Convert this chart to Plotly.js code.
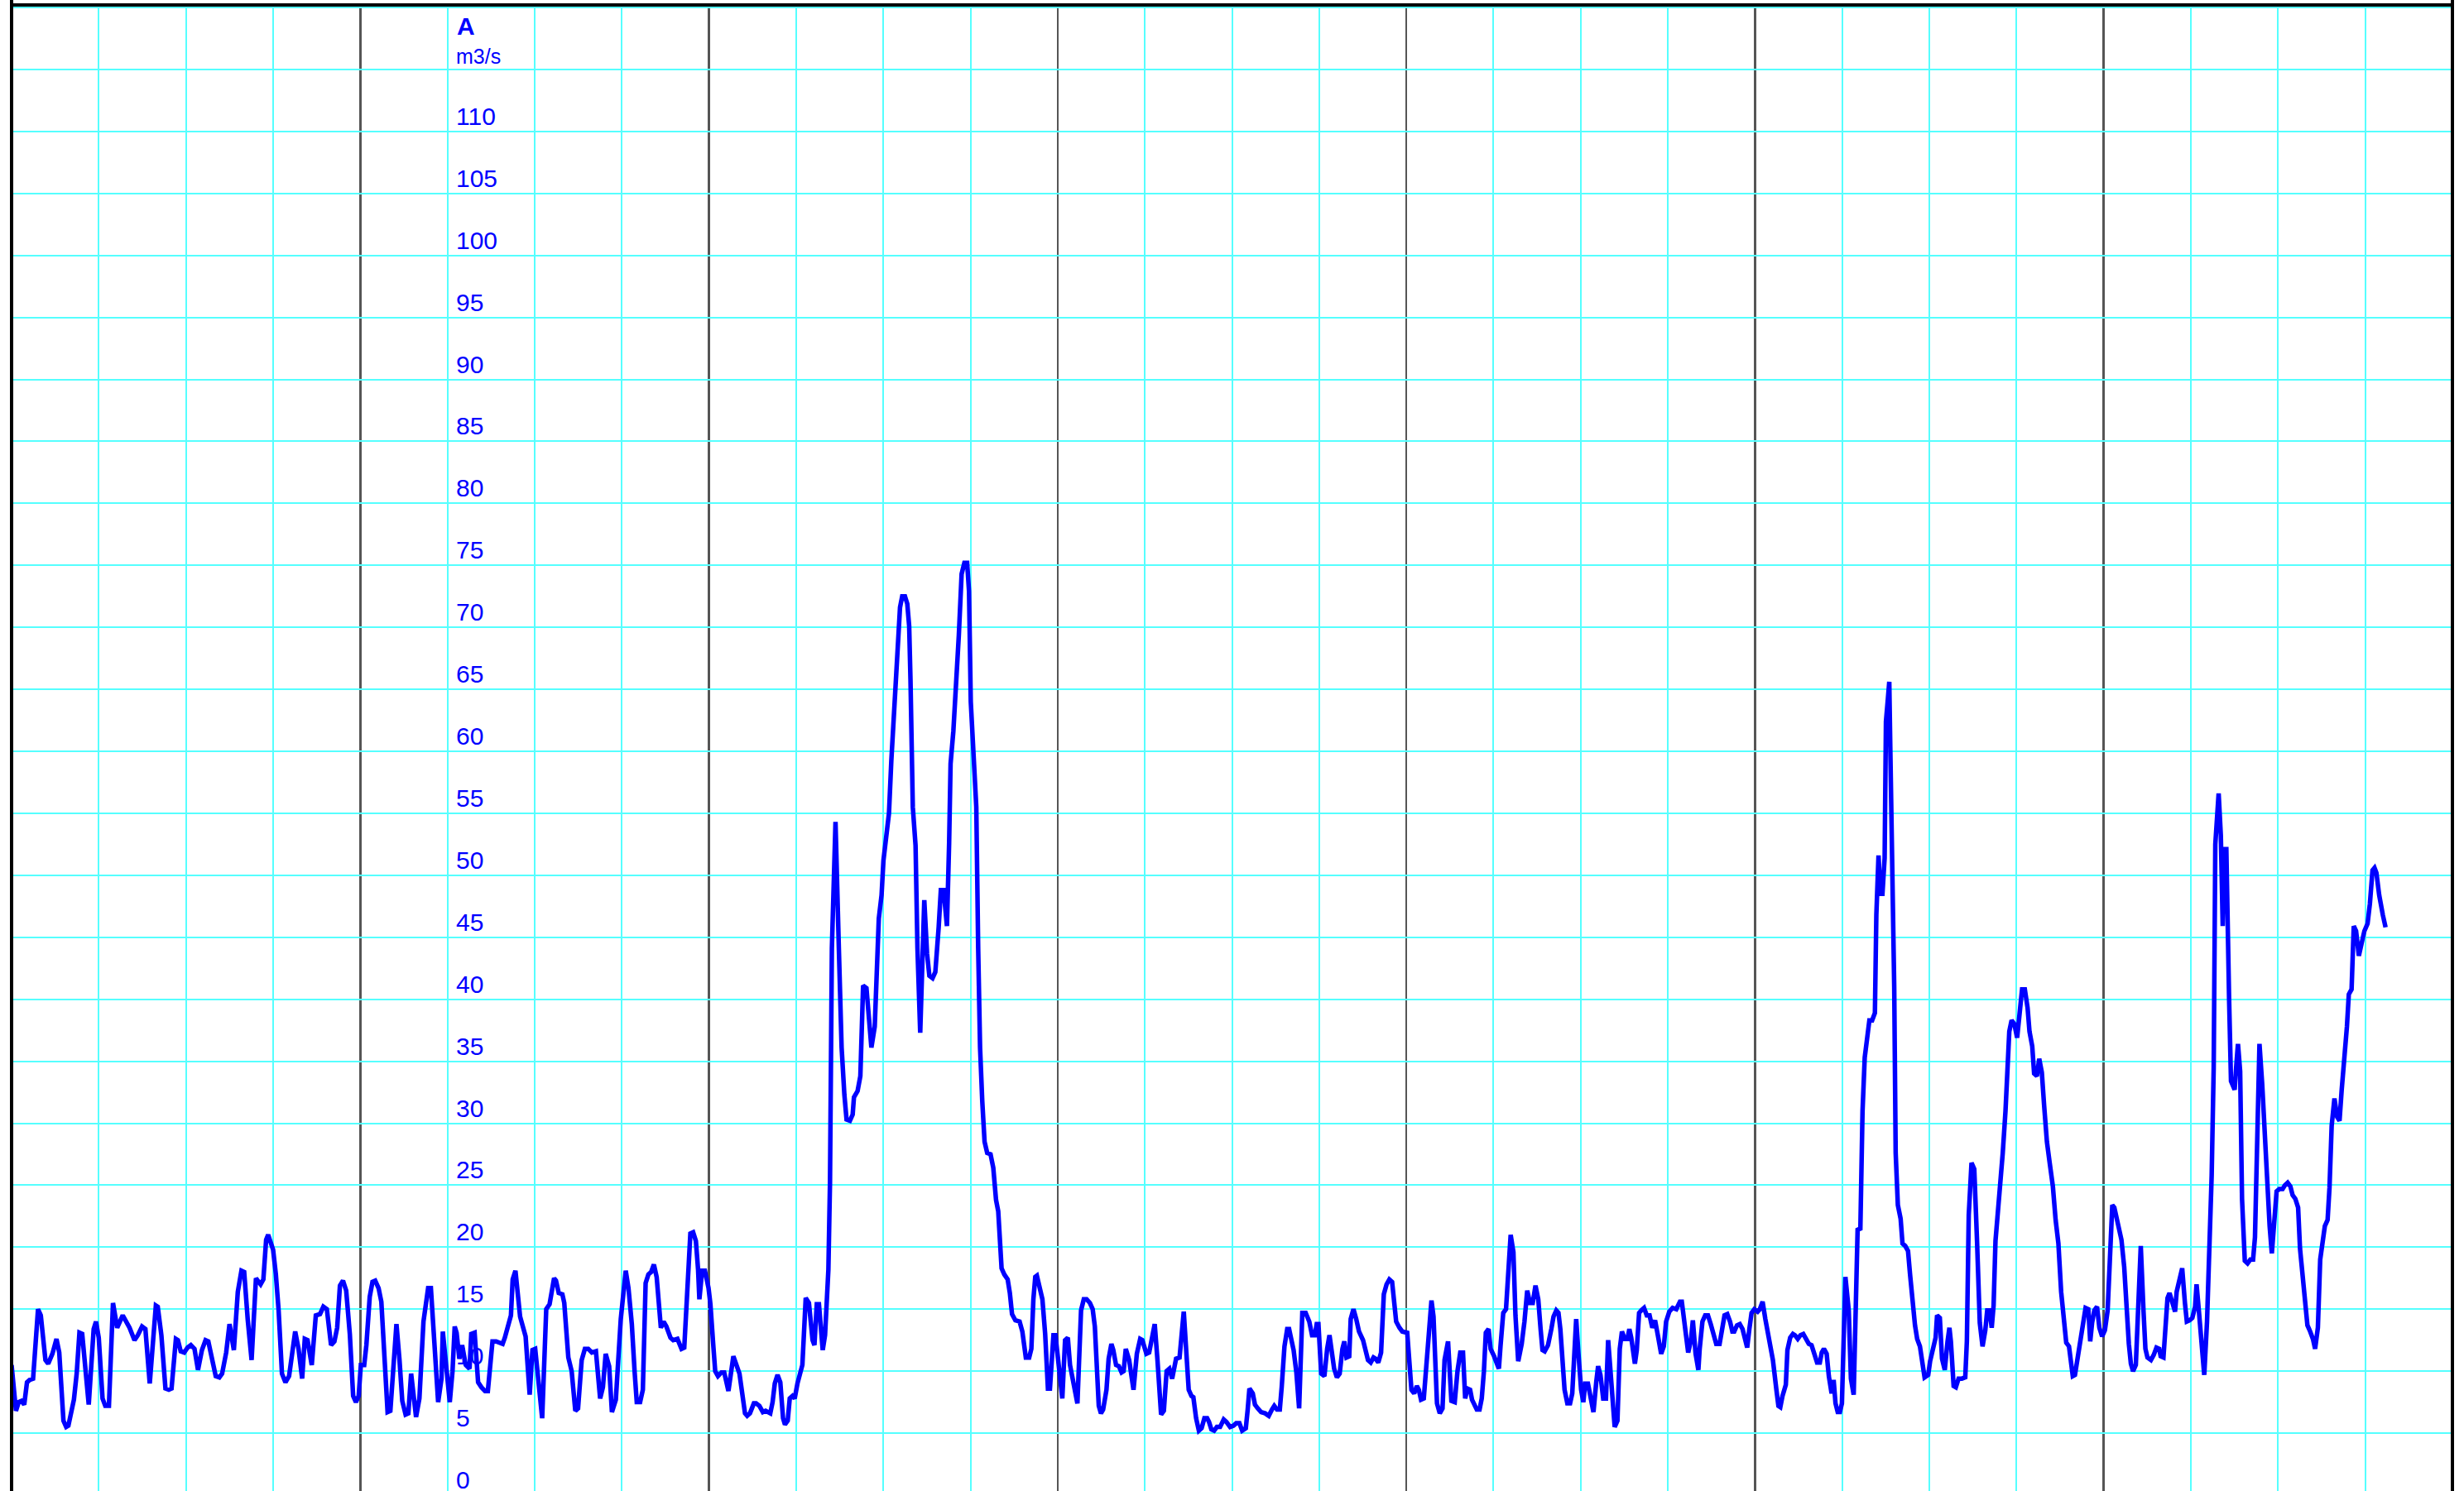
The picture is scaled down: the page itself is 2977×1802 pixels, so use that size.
<!DOCTYPE html>
<html>
<head>
<meta charset="utf-8">
<script src="https://cdn.plot.ly/plotly-3.0.1.min.js"></script>
<style>
html,body{margin:0;padding:0;overflow:hidden;background:#ffffff;}
#chart{width:2977px;height:1807px;}
</style>
</head>
<body>
<div id="chart"></div>
<script>
// Time axis in hours from the start of the 7-day window; flow in m3/s.
const hours = [
0, 0.30, 0.49, 0.68, 0.87, 1.06, 1.25, 1.48, 1.82, 2.01,
2.33, 2.52, 2.81, 3.09, 3.28, 3.57, 3.76, 3.91, 4.29, 4.48,
4.67, 4.86, 5.31, 5.65, 5.81, 6.0, 6.26, 6.45, 6.7, 6.98,
7.27, 7.65, 8.12, 8.46, 8.69, 8.98, 9.21, 9.51, 9.93, 10.06,
10.31, 10.59, 10.82, 11.01, 11.31, 11.45, 11.64, 11.88, 12.11, 12.34,
12.59, 12.83, 13.1, 13.35, 13.54, 13.78, 14.05, 14.3, 14.49, 14.77,
15.0, 15.3, 15.57, 15.82, 16.01, 16.25, 16.52, 16.82, 17.14, 17.33,
17.52, 17.66, 17.81, 18.0, 18.19, 18.38, 18.61, 18.85, 19.1, 19.52,
19.75, 20.0, 20.18, 20.37, 20.66, 20.94, 21.23, 21.46, 21.7, 21.99,
22.22, 22.41, 22.6, 22.81, 23.03, 23.28, 23.51, 23.7, 23.89, 24.04,
24.27, 24.42, 24.65, 24.84, 25.03, 25.26, 25.45, 25.69, 25.88, 26.07,
26.26, 26.49, 26.7, 26.89, 27.12, 27.31, 27.5,
27.84, 28.07, 28.35, 28.67, 28.86, 29.36, 29.59, 29.68, 29.93, 30.16,
30.35, 30.5, 30.63, 30.82, 31.01, 31.26, 31.52, 31.64, 31.87, 32.11,
32.34, 32.59, 32.78, 33.1, 33.35, 33.8, 33.95, 34.14, 34.37, 34.49,
34.68, 35.0, 35.38, 35.66, 35.85, 36.04, 36.52, 36.8, 37.03, 37.34,
37.47, 37.66, 37.91, 38.04, 38.32, 38.55, 38.8, 38.99, 39.24, 39.46,
39.69, 39.94, 40.22, 40.51, 40.7, 40.89, 41.13, 41.32, 41.59, 41.93,
42.27, 42.46, 42.69, 42.88, 43.03, 43.26, 43.45, 43.64, 43.83, 44.02,
44.21, 44.4, 44.59, 44.69, 44.88, 45.07, 45.35, 45.54, 45.83, 46.11,
46.3, 46.45, 46.58, 46.72, 46.91, 47.1, 47.25, 47.34, 47.53, 47.72,
47.97, 48.1, 48.29, 48.43, 48.62, 48.86, 49.05, 49.34, 49.68, 49.91,
50.1, 50.29, 50.48, 50.63, 50.82, 51.09, 51.24, 51.47, 51.71, 51.9,
52.09, 52.22, 52.38, 52.53, 52.72, 52.91, 53.1, 53.23, 53.42, 53.56,
53.75, 53.9, 54.09, 54.28, 54.43, 54.66, 54.88, 55.13, 55.26, 55.42,
55.57, 55.83, 55.99,
56.22, 56.33, 56.46, 56.71, 56.94, 57.13, 57.32, 57.47, 57.7, 57.89,
57.98, 58.23, 58.42, 58.61, 58.84, 59.03, 59.18, 59.41, 59.56, 59.69,
59.88, 60.01, 60.2, 60.39, 60.55, 60.74, 60.93, 61.15, 61.3, 61.49,
61.65, 61.78, 61.87, 62.03, 62.22, 62.35, 62.54, 62.82, 63.01, 63.17,
63.39, 63.58, 63.81, 63.96, 64.15, 64.38, 64.53, 64.63, 64.82, 65.01,
65.2, 65.39, 65.58, 65.77, 65.9, 66.02, 66.24, 66.4, 66.53, 66.66,
66.81, 66.97, 67.15, 67.38, 67.57, 67.76, 67.91, 68.14, 68.33, 68.56,
68.71, 68.86, 69.09, 69.38, 69.57, 69.81, 70.04, 70.19, 70.33, 70.46,
70.57, 70.76, 70.95, 71.14, 71.33, 71.47, 71.71, 71.85,
72.32, 72.51, 72.7, 72.85, 73.08, 73.36, 73.61, 73.8, 73.99, 74.22,
74.41, 74.56, 74.83, 74.98, 75.13, 75.36, 75.51, 75.7, 75.83, 76.02,
76.21, 76.4, 76.54, 76.69, 76.92, 77.07, 77.22, 77.45, 77.68, 77.83,
78.11, 78.3, 78.68, 78.87, 79.01, 79.12, 79.31, 79.5, 79.69, 79.88,
80.15, 80.39, 80.68, 80.87, 81.02, 81.21, 81.34, 81.53, 81.72, 81.91,
82.1, 82.29, 82.42, 82.58, 82.77, 82.96, 83.18, 83.43, 83.62, 83.87,
84.1, 84.29, 84.51, 84.7, 84.95, 85.08, 85.2, 85.43, 85.58, 85.77,
86.0, 86.28, 86.53, 86.75, 86.91, 87.1, 87.29, 87.42, 87.61, 87.8,
87.93, 88.24, 88.43, 88.62, 88.84, 89.07, 89.32, 89.51, 89.7, 89.83,
89.95, 90.14, 90.36, 90.55, 90.71, 90.84, 91.03, 91.22, 91.41, 91.6,
91.73, 91.88, 92.07, 92.17, 92.36, 92.55, 92.74, 93.02, 93.21, 93.36,
93.55, 93.74, 93.88, 94.07, 94.26, 94.45, 94.64, 94.83, 95.02, 95.15,
95.3, 95.53, 95.72, 96.06, 96.25, 96.35, 96.54, 96.72, 96.86, 97.01,
97.2, 97.39, 97.54, 97.73, 97.87, 98.11, 98.3, 98.49, 98.63, 98.87,
99.1, 99.33, 99.52, 99.71, 99.9, 100.05,
100.2, 100.39, 100.52, 100.71, 100.85, 101.04, 101.19, 101.34, 101.47, 101.66,
101.8, 102.04, 102.23, 102.37, 102.48, 102.67, 102.86, 102.99, 103.18, 103.37,
103.51, 103.7, 103.94, 104.13, 104.32, 104.51, 104.7, 104.89, 105.08, 105.24,
105.37, 105.52, 105.75, 105.98, 106.13, 106.32, 106.47, 106.6, 106.74, 106.89,
107.08, 107.27, 107.42, 107.55, 107.69, 107.84, 108.03, 108.18, 108.31, 108.5,
108.69, 108.88, 109.07, 109.2, 109.36, 109.55, 109.74, 109.89, 110.02, 110.21,
110.34, 110.53, 110.69, 110.84, 111.03, 111.22, 111.35, 111.48, 111.73, 111.86,
112.02, 112.17, 112.36, 112.55, 112.74, 112.93, 113.12, 113.31, 113.54, 113.72,
113.88, 114.1, 114.33, 114.58, 114.83, 114.96, 115.15, 115.4, 115.59, 115.72,
115.91, 116.1, 116.19, 116.38, 116.57, 116.76, 116.95, 117.14, 117.33, 117.56,
117.71, 117.9, 118.09, 118.28, 118.44, 118.57, 118.76, 118.95, 119.14, 119.33,
119.46, 119.61, 119.76, 119.95, 120.18, 120.33, 120.52, 120.71, 120.94, 121.23,
121.47, 121.61, 121.74, 121.89, 122.12, 122.23, 122.42, 122.61, 122.75, 122.94,
123.13, 123.32, 123.51, 123.7, 123.89, 124.13, 124.27, 124.46, 124.59, 124.74,
124.93, 125.08, 125.27, 125.41, 125.54, 125.69, 125.84, 125.98, 126.07, 126.22,
126.45, 126.6, 126.79, 126.92, 127.06, 127.25,
127.4, 127.55, 127.68, 127.87, 128.06, 128.25, 128.35, 128.5, 128.63, 128.77,
128.92, 129.01, 129.15, 129.24, 129.3, 129.45, 129.58, 129.68, 129.83, 130.02,
130.15, 130.34, 130.53, 130.67, 130.82, 131.01, 131.16, 131.35, 131.67, 131.92,
132.05, 132.3, 132.43, 132.53, 132.72, 132.87, 133.06, 133.25, 133.38, 133.48,
133.67, 133.82, 134.01, 134.24, 134.47, 134.58, 134.71, 134.9, 135.09, 135.28,
135.47, 135.66, 135.85, 135.98, 136.14, 136.29, 136.42, 136.55, 136.71, 136.9,
137.05, 137.24, 137.37, 137.5, 137.66, 137.85, 138.04, 138.23, 138.38, 138.57,
138.76, 138.89, 139.08, 139.21, 139.4, 139.56, 139.74, 139.9, 140.09, 140.28,
140.5, 140.69, 140.88, 141.07, 141.26, 141.42, 141.61, 141.74, 141.87, 142.02,
142.21, 142.4, 142.59, 142.75, 142.94, 143.07, 143.2, 143.35, 143.54, 143.7,
143.89, 144.08, 144.27, 144.4,
144.59, 144.73, 144.88, 145.03, 145.22, 145.41, 145.54, 145.73, 145.87, 146.02,
146.21, 146.36, 146.55, 146.74, 146.87, 147.01, 147.25, 147.44, 147.63, 147.82,
147.92, 148.11, 148.26, 148.39, 148.53, 148.72, 148.91, 149.02, 149.21, 149.4,
149.59, 149.72, 149.91, 150.1, 150.29, 150.39, 150.54, 150.73, 150.92, 151.11,
151.3, 151.43, 151.57, 151.68, 151.91, 152.06, 152.19, 152.29, 152.44, 152.57,
152.63, 152.76, 152.9, 153.01, 153.14, 153.24, 153.39, 153.52, 153.71, 153.9,
154.09, 154.28, 154.41, 154.57, 154.72, 154.91, 155.1, 155.29, 155.42, 155.57,
155.74, 155.9, 156.09, 156.31, 156.47, 156.66, 156.85, 157.0, 157.19, 157.38,
157.51, 157.7, 157.89, 158.02, 158.21, 158.4, 158.55, 158.74, 158.9, 159.03,
159.22, 159.41, 159.54, 159.69, 159.88, 160.07, 160.23, 160.38, 160.55, 160.74,
160.87, 161.06, 161.21, 161.37, 161.56, 161.75, 161.94, 162.16, 162.32, 162.5,
162.64, 162.77, 162.96, 163.21, 163.4
];

const flow = [
10.5, 6.8, 7.5, 7.6, 7.3, 9.1, 9.3, 9.4, 15.0, 14.5,
10.9, 10.6, 11.4, 12.6, 11.5, 6.0, 5.5, 5.6, 7.7, 9.8,
13.1, 13.0, 7.3, 13.4, 14.0, 12.7, 7.8, 7.2, 7.2, 15.5,
13.5, 14.5, 13.5, 12.5, 12.9, 13.6, 13.4, 9.0, 15.3, 15.2,
12.9, 8.6, 8.5, 8.6, 12.6, 12.5, 11.6, 11.5, 11.9, 12.1,
11.8, 10.1, 11.7, 12.5, 12.4, 10.9, 9.6, 9.5, 9.8, 11.5,
13.8, 11.7, 16.4, 18.1, 18.0, 14.2, 10.9, 17.5, 17.0, 17.4,
20.6, 21.0, 20.5, 19.8, 17.8, 14.9, 9.8, 9.1, 9.6, 13.2,
11.8, 9.4, 12.6, 12.5, 10.5, 14.5, 14.6, 15.2, 15.0, 12.1,
12.4, 13.5, 16.9, 17.3, 16.5, 13.0, 8.0, 7.5, 8.0, 10.5,
10.5, 12.1, 16.0, 17.2, 17.3, 16.7, 15.6, 9.9, 6.7, 6.8,
10.2, 13.8, 10.9, 7.6, 6.5, 6.6, 9.8,
6.3, 7.8, 14.0, 16.7, 16.7, 7.5, 9.4, 13.2, 10.5, 7.5,
10.0, 13.6, 13.1, 11.0, 12.1, 10.5, 10.2, 13.0, 13.1, 9.1,
8.7, 8.4, 8.4, 12.4, 12.4, 12.2, 12.7, 13.7, 14.5, 17.4,
18.1, 14.4, 12.8, 8.1, 11.7, 11.8, 6.2, 15.0, 15.4, 17.5,
17.3, 16.3, 16.2, 15.5, 11.1, 10.0, 6.8, 7.0, 10.9, 11.8,
11.8, 11.5, 11.6, 7.8, 8.7, 11.4, 10.4, 6.7, 7.7, 14.2,
18.1, 16.7, 13.8, 10.0, 7.5, 7.5, 8.5, 17.1, 17.8, 18.0,
18.6, 17.6, 14.7, 13.5, 14.0, 13.6, 12.7, 12.5, 12.6, 11.8,
11.9, 15.1, 19.4, 21.1, 21.2, 20.5, 18.2, 15.8, 18.1, 18.1,
16.7, 15.4, 12.2, 10.0, 9.6, 9.9, 9.9, 8.4, 11.2, 10.5,
9.8, 8.2, 6.6, 6.4, 6.6, 7.4, 7.4, 7.2, 6.7, 6.8,
6.7, 6.6, 7.5, 9.0, 9.7, 9.1, 6.2, 5.7, 6.0, 7.8,
8.0, 7.8, 9.0, 9.8, 10.5, 15.9, 15.5, 12.5, 12.1, 15.4,
15.4, 11.7, 12.9,
18.2, 25.2, 44.1, 54.3, 44.1, 36.1, 32.3, 30.3, 30.2, 30.7,
32.1, 32.6, 33.8, 41.1, 40.9, 37.5, 36.1, 37.8, 43.4, 46.5,
48.4, 51.2, 53.1, 55.0, 59.2, 63.0, 67.7, 71.6, 72.5, 72.5,
71.9, 70.1, 65.8, 55.5, 52.4, 44.1, 37.3, 48.0, 43.7, 41.9,
41.7, 42.2, 45.8, 48.8, 48.8, 45.9, 52.6, 59.0, 61.6, 64.9,
69.4, 74.3, 75.2, 75.2, 72.9, 64.0, 59.2, 55.5, 44.1, 36.1,
31.8, 28.5, 27.6, 27.5, 26.4, 23.8, 22.9, 18.3, 17.8, 17.4,
16.3, 14.6, 14.1, 14.0, 13.2, 11.1, 11.1, 11.8, 15.8, 17.6,
17.7, 16.8, 15.8, 13.0, 8.6, 8.6, 12.9, 12.9,
7.8, 12.5, 12.7, 10.5, 9.1, 7.4, 14.9, 15.8, 15.8, 15.5,
15.0, 13.6, 7.2, 6.6, 6.9, 8.5, 11.0, 12.2, 11.7, 10.5,
10.4, 9.9, 10.0, 11.8, 10.9, 9.4, 8.5, 11.4, 12.6, 12.5,
11.4, 11.5, 13.8, 10.9, 7.8, 6.5, 6.8, 10.0, 10.2, 9.4,
11.0, 11.1, 14.8, 11.6, 8.5, 8.0, 7.9, 6.2, 5.2, 5.4,
6.2, 6.2, 5.9, 5.3, 5.2, 5.5, 5.5, 6.1, 5.9, 5.5,
5.6, 5.8, 5.8, 5.2, 5.4, 6.9, 8.6, 8.2, 7.3, 7.0,
6.7, 6.6, 6.4, 6.9, 7.2, 6.9, 6.9, 8.7, 12.0, 13.4,
13.4, 11.7, 9.9, 7.0, 14.7, 14.7, 14.0, 12.9, 12.9, 13.8,
13.8, 9.8, 9.6, 11.8, 12.9, 11.8, 10.2, 9.5, 9.8, 11.8,
12.4, 11.1, 11.2, 14.2, 15.0, 14.2, 13.2, 12.5, 11.7, 10.9,
10.7, 11.1, 11.0, 10.7, 11.5, 16.2, 17.0, 17.4, 17.2, 15.9,
14.0, 13.5, 13.2, 13.1, 10.5, 8.5, 8.2, 8.8, 8.5, 7.7,
7.8, 10.5, 13.7, 15.7, 14.4, 7.4, 6.6, 7.0, 10.9, 12.4,
7.6, 7.5, 10.0, 11.5, 11.5, 7.8,
8.6, 8.5, 7.7, 7.1, 6.9, 6.9, 7.8, 10.0, 13.1, 13.4,
11.8, 11.2, 10.7, 10.2, 12.0, 14.7, 15.0, 17.1, 21.0, 19.6,
14.5, 10.8, 12.2, 14.0, 16.5, 15.5, 15.5, 16.9, 15.8, 13.4,
11.7, 11.6, 12.1, 13.4, 14.4, 14.9, 14.7, 13.4, 10.9, 8.5,
7.4, 7.4, 8.2, 11.8, 14.2, 11.5, 8.5, 7.5, 9.0, 9.0,
7.8, 6.7, 9.1, 10.4, 9.7, 7.8, 7.8, 12.5, 10.5, 6.9,
5.5, 6.0, 11.8, 13.2, 12.6, 12.6, 13.4, 12.7, 10.6, 11.7,
14.7, 14.9, 15.1, 14.5, 14.5, 13.5, 14.1, 12.9, 11.4, 12.0,
14.0, 14.8, 15.1, 15.0, 15.6, 15.6, 13.8, 11.5, 12.5, 14.1,
11.4, 10.1, 11.8, 14.0, 14.5, 14.5, 13.8, 12.9, 12.2, 12.2,
13.4, 14.5, 14.6, 14.0, 13.2, 13.2, 13.7, 13.8, 13.4, 12.6,
11.9, 13.4, 14.7, 15.0, 14.8, 15.0, 15.6, 14.2, 12.9, 10.9,
8.5, 7.2, 7.1, 8.0, 8.9, 11.7, 12.7, 13.0, 12.9, 12.6,
12.9, 13.0, 12.6, 12.2, 12.1, 11.2, 10.7, 10.7, 11.5, 11.8,
11.4, 9.6, 8.2, 9.3, 7.4, 6.7, 6.7, 7.4, 10.5, 17.6,
14.9, 9.4, 8.1, 14.9, 21.4, 21.5,
31.0, 35.3, 36.8, 38.3, 38.3, 38.9, 46.8, 51.6, 48.5, 48.5,
51.4, 62.4, 64.3, 65.6, 61.0, 51.0, 41.0, 27.6, 23.4, 22.3,
20.3, 20.1, 19.7, 17.8, 15.5, 13.7, 12.6, 12.0, 9.5, 9.7,
10.8, 12.0, 12.7, 14.5, 14.3, 11.0, 10.1, 12.4, 13.5, 12.4,
8.8, 8.7, 9.4, 9.4, 9.5, 12.4, 22.6, 26.8, 26.3, 20.5,
13.9, 12.0, 13.3, 14.9, 14.9, 13.5, 15.3, 20.5, 22.6, 24.7,
27.6, 31.0, 34.3, 37.4, 38.3, 38.0, 36.9, 39.3, 40.8, 40.8,
39.3, 37.4, 36.2, 34.0, 33.8, 35.2, 34.1, 31.4, 28.5, 26.8,
24.9, 22.2, 20.3, 16.4, 13.7, 12.3, 12.0, 10.8, 9.6, 9.7,
11.0, 12.6, 13.5, 15.1, 15.0, 12.4, 13.9, 14.9, 15.2, 13.5,
12.8, 13.3, 14.9, 18.5,
23.4, 23.2, 22.3, 21.4, 20.6, 18.4, 15.1, 12.2, 10.6, 10.0,
10.5, 14.8, 20.1, 14.8, 11.8, 11.1, 10.9, 11.3, 11.9, 11.8,
11.2, 11.1, 14.5, 15.9, 16.3, 15.5, 14.8, 16.4, 17.3, 18.3,
15.5, 14.0, 14.1, 14.3, 15.2, 17.0, 15.0, 11.8, 9.7, 14.0,
20.3, 25.8, 34.5, 52.5, 56.6, 53.2, 45.9, 52.1, 52.1, 46.2,
40.0, 33.4, 32.9, 32.7, 34.9, 36.4, 34.2, 23.9, 18.9, 18.7,
19.0, 19.0, 20.8, 28.7, 36.4, 33.1, 28.3, 25.4, 21.7, 19.5,
22.5, 24.5, 24.7, 24.7, 25.0, 25.2, 24.9, 24.2, 23.9, 23.2,
19.9, 17.5, 15.1, 13.7, 13.2, 12.6, 11.8, 13.5, 19.0, 20.3,
21.7, 22.2, 24.8, 29.8, 32.0, 30.5, 30.2, 32.7, 34.9, 37.8,
40.4, 40.8, 45.9, 45.5, 43.5, 44.4, 45.5, 46.1, 47.7, 50.4,
50.6, 50.2, 48.4, 46.8, 45.8
];

const yTickVals = [0, 5, 10, 15, 20, 25, 30, 35, 40, 45, 50, 55, 60, 65, 70, 75, 80, 85, 90, 95, 100, 105, 110];
const yTickText = yTickVals.map(v => String(v));
const seriesName = 'A';
const unitText = 'm3/s';

const FONT = 'Liberation Sans, Arial, Helvetica, sans-serif';
const BLUE = '#0000FF';
const CYAN = '#55FFFF';
const DAYGRID = '#555555';
const LABEL_HOUR = 30;      // column of the value labels
const UNIT_VALUE = 115;     // grid line under the unit label

const annotations = yTickVals.map((v, i) => ({
  x: LABEL_HOUR, y: v, xref: 'x', yref: 'y',
  text: yTickText[i], showarrow: false,
  xanchor: 'left', yanchor: 'bottom', xshift: 8, yshift: 0,
  font: {family: FONT, size: 30, color: BLUE}
}));
annotations.push({
  x: LABEL_HOUR, y: UNIT_VALUE, xref: 'x', yref: 'y',
  text: unitText, showarrow: false,
  xanchor: 'left', yanchor: 'bottom', xshift: 8, yshift: 0,
  font: {family: FONT, size: 25, color: BLUE}
});
annotations.push({
  x: LABEL_HOUR, y: UNIT_VALUE, xref: 'x', yref: 'y',
  text: '<b>' + seriesName + '</b>', showarrow: false,
  xanchor: 'left', yanchor: 'bottom', xshift: 9, yshift: 34,
  font: {family: FONT, size: 30, color: BLUE}
});

// Frame of the chart: top edge plus left/right edges that run up to the page top.
const frameShapes = [
  {type: 'line', xref: 'paper', yref: 'paper', x0: 0, x1: 1, y0: 1, y1: 1,
   line: {color: '#000000', width: 4}},
  {type: 'line', xref: 'paper', yref: 'paper', x0: 0, x1: 0, y0: 0, y1: 1.004,
   line: {color: '#000000', width: 4}},
  {type: 'line', xref: 'paper', yref: 'paper', x0: 1, x1: 1, y0: 0, y1: 1.004,
   line: {color: '#000000', width: 4}}
];

const trace = {
  x: hours, y: flow, type: 'scatter', mode: 'lines', name: seriesName,
  line: {color: BLUE, width: 5.5, shape: 'linear'},
  hoverinfo: 'skip', cliponaxis: true
};

const layout = {
  width: 2977, height: 1807,
  margin: {l: 14, r: 14, t: 6, b: 0, pad: 0},
  paper_bgcolor: '#ffffff', plot_bgcolor: '#ffffff',
  showlegend: false,
  xaxis: {
    range: [0, 168], tick0: 0, dtick: 24,
    showgrid: true, gridcolor: DAYGRID, gridwidth: 2.5,
    minor: {tick0: 0, dtick: 6, showgrid: true, gridcolor: CYAN, gridwidth: 2, ticks: ''},
    showticklabels: false, ticks: '', zeroline: false, showline: false
  },
  yaxis: {
    range: [0, 120.2], tick0: 0, dtick: 5,
    showgrid: true, gridcolor: CYAN, gridwidth: 2,
    showticklabels: false, ticks: '', zeroline: false, showline: false
  },
  shapes: frameShapes,
  annotations: annotations
};

Plotly.newPlot('chart', [trace], layout, {staticPlot: true, displayModeBar: false});
</script>
</body>
</html>
